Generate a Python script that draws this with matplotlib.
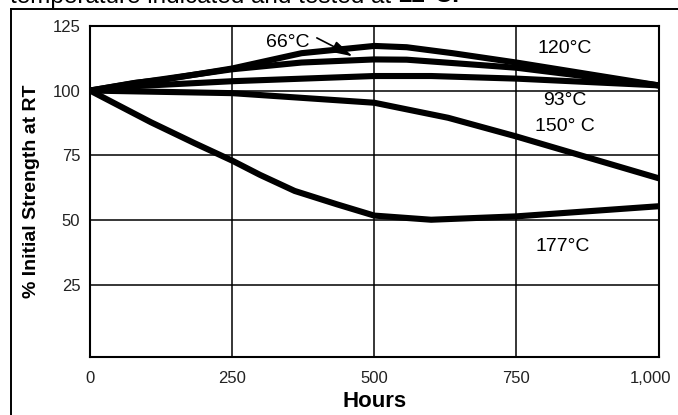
import matplotlib
matplotlib.use("Agg")
import matplotlib.pyplot as plt
from matplotlib.lines import Line2D
import matplotlib.transforms as mtransforms

plt.rcParams['font.family'] = ['Liberation Sans', 'DejaVu Sans']

# ---- data ----
x_120 = [0, 80, 130, 250, 372, 500, 557, 638, 750, 1000]
y_120 = [100, 103, 104.2, 108.5, 114.4, 117.2, 116.7, 114.4, 110.8, 102]

x_66 = [0, 80, 250, 372, 500, 557, 638, 750, 1000]
y_66 = [100, 102.9, 108.2, 110.8, 112, 111.9, 110.6, 108.8, 102]

x_93 = [0, 80, 250, 500, 600, 750, 1000]
y_93 = [100, 101.7, 103.6, 105.6, 105.6, 104.6, 102]

x_150 = [0, 250, 500, 630, 750, 1000]
y_150 = [100, 99, 95.3, 89.5, 82.3, 66.2]

x_177 = [0, 107, 184, 250, 299, 360, 435, 500, 600, 750, 1000]
y_177 = [100, 87.8, 79.7, 73, 67.5, 61.3, 56.1, 51.8, 50.2, 51.5, 55.4]

x_ticks = [0, 250, 500, 750, 1000]
x_tick_labels = ["0", "250", "500", "750", "1,000"]
y_ticks = [25, 50, 75, 100, 125]
y_tick_labels = ["25", "50", "75", "100", "125"]

labels = ["120°C", "66°C", "93°C", "150° C", "177°C"]
label_x = [835, 348, 835, 835, 831]
label_y = [116.3, 118.6, 96.3, 86.0, 40.0]

W, H = 678, 415
fig = plt.figure(figsize=(W / 100, H / 100), dpi=100)
ax = fig.add_axes([90 / W, 1 - 356.7 / H, (658.5 - 90) / W, (356.7 - 25.7) / H])

series = [(x_120, y_120), (x_66, y_66), (x_93, y_93), (x_150, y_150), (x_177, y_177)]
for xs, ys in series:
    ax.plot(xs, ys, color='black', lw=4.4, solid_capstyle='round',
            solid_joinstyle='round', zorder=3)

ax.set_xlim(0, 1000)
ax.set_ylim(-2.6, 125)
ax.set_xticks(x_ticks)
ax.set_xticklabels(x_tick_labels, fontsize=12)
ax.set_yticks(y_ticks)
ax.set_yticklabels(y_tick_labels, fontsize=12)
ax.tick_params(length=0)
ax.tick_params(axis='y', pad=7)
ax.tick_params(axis='x', pad=10)
for lab in ax.get_xticklabels() + ax.get_yticklabels():
    lab.set_color('#222222')
last = ax.get_xticklabels()[-1]
last.set_transform(last.get_transform() + mtransforms.ScaledTranslation(-8 / 100, 0, fig.dpi_scale_trans))

ax.grid(True, color='black', lw=1.1)
ax.set_axisbelow(True)
for sp in ax.spines.values():
    sp.set_linewidth(1.5)

ax.set_xlabel("Hours", fontsize=16, fontweight='bold', labelpad=4)
ax.set_ylabel("% Initial Strength at RT", fontsize=14, fontweight='bold', labelpad=9)

for t, lx, ly in zip(labels, label_x, label_y):
    ax.text(lx, ly, t, fontsize=14, ha='center', va='center', zorder=4)

# arrow for 66°C
ax.annotate("", xy=(462, 113.2), xytext=(399, 120.3),
            arrowprops=dict(arrowstyle='-|>,head_length=0.9,head_width=0.25', color='black', lw=1.2,
                            mutation_scale=14, shrinkA=0, shrinkB=0), zorder=4)

# outer frame (left and top)
fig.add_artist(Line2D([10.5 / W, 10.5 / W], [0, 1 - 9 / H], color='black', lw=1.4,
                      transform=fig.transFigure))
fig.add_artist(Line2D([10.5 / W, 1], [1 - 9 / H, 1 - 9 / H], color='black', lw=1.4,
                      transform=fig.transFigure))

# cut-off caption at the top
base_y = 1 - 2.5 / H
t1 = fig.text(10 / W, base_y, "temperature indicated and tested at ", fontsize=17.5,
              ha='left', va='baseline')
t2 = fig.text(0, base_y, "22°C.", fontsize=17.5, fontweight='bold', ha='left', va='baseline')
fig.canvas.draw()
bb = t1.get_window_extent()
t2.set_position((bb.x1 / W, base_y))

fig.savefig("out.png", dpi=100)
